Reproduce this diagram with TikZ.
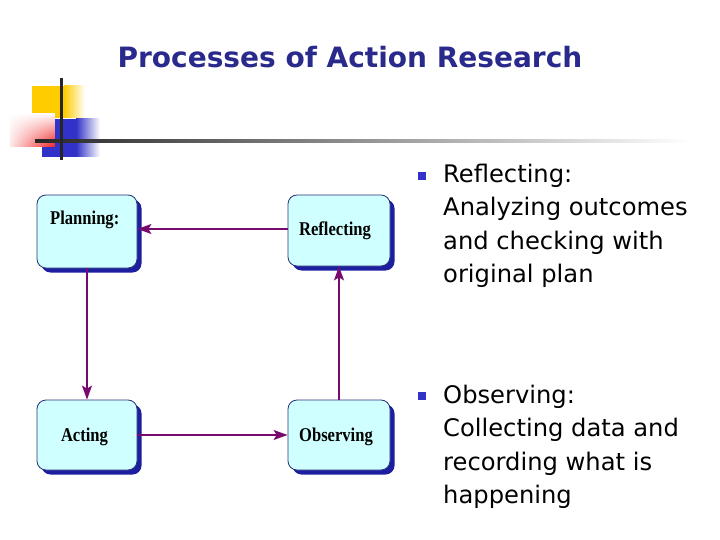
\documentclass[tikz,border=0pt]{standalone}
\usepackage{fontspec}
\setmainfont{DejaVu Sans}
\newfontfamily\boxfont{Liberation Serif}
\usetikzlibrary{arrows.meta,shadows,fadings}
\definecolor{titleblue}{RGB}{42,42,140}
\definecolor{boxfill}{RGB}{208,255,255}
\definecolor{boxline}{RGB}{40,50,120}
\definecolor{shadowblue}{RGB}{30,30,160}
\definecolor{arrowpurple}{RGB}{120,10,110}
\definecolor{bulletblue}{RGB}{50,50,200}
\definecolor{decoyellow}{RGB}{255,204,0}
\definecolor{decoblue}{RGB}{50,50,200}
\definecolor{decored}{RGB}{240,30,30}
\newcommand{\boxtxt}[1]{\scalebox{0.85}[1]{\boxfont\bfseries\fontsize{19.5}{22}\selectfont #1}}
\tikzset{
  box/.style={rectangle, rounded corners=9pt, draw=boxline, line width=0.8pt, fill=boxfill,
    drop shadow={shadow xshift=4.5pt, shadow yshift=-4.5pt, fill=shadowblue, opacity=1},
    inner sep=0pt},
  boxlabel/.style={anchor=base, inner sep=0pt},
  flow/.style={draw=arrowpurple, line width=1.4pt, -{Stealth[length=14pt,width=10pt,inset=3pt]}},
  bullettext/.style={anchor=base west, align=left, inner sep=0pt, font=\fontsize{24.2}{33.6}\selectfont},
  bulletsq/.style={fill=bulletblue, minimum size=8pt, inner sep=0pt},
}
\begin{document}
\begin{tikzpicture}[x=1pt,y=-1pt]
\useasboundingbox (0,0) rectangle (720,540);
\fill[white] (0,0) rectangle (720,540);
% title
\node[font=\bfseries\fontsize{28}{32}\selectfont, text=titleblue] (title) at (350,57) {Processes of Action Research};
% decoration
\fill[decoyellow] (32,86) rectangle (64,118);
\shade[left color=decoyellow, right color=white] (64,86) rectangle (85,118);
\fill[decoblue] (42,119) rectangle (76,157);
\shade[left color=decoblue, right color=white] (76,119) rectangle (100,157);
\fill[white] (10,113) rectangle (55,147);
\shade[left color=decored!10, right color=decored, path fading=north] (10,113) rectangle (55,147);
\shade[left color=black!85, right color=white] (35,139.5) rectangle (690,142.5);
\fill[black!85] (60,78) rectangle (62.5,160);
% boxes
\node[box, minimum width=100pt, minimum height=73pt] (plan) at (87,231.5) {};
\node[anchor=base west, inner sep=0pt] (plantext) at (50,225) {\boxtxt{Planning:}};
\node[box, minimum width=102pt, minimum height=71pt] (refl) at (339,230.5) {};
\node[boxlabel] (refltext) at (335,235.5) {\boxtxt{Reflecting}};
\node[box, minimum width=100pt, minimum height=70pt] (act) at (87,435) {};
\node[boxlabel] (acttext) at (84.5,441) {\boxtxt{Acting}};
\node[box, minimum width=102pt, minimum height=70pt] (obs) at (339,435) {};
\node[boxlabel] (obstext) at (336,441) {\boxtxt{Observing}};
% arrows
\draw[flow] (refl.west |- 0,229) -- (plan.east |- 0,229);
\draw[flow] (plan.south) -- (act.north);
\draw[flow] (act.east) -- (obs.west);
\draw[flow] (obs.north) -- (refl.south);
% bullets
\node[bulletsq] (b1) at (422,176) {};
\node[bullettext] (t1) at (443,282.8) {Reflecting:\\Analyzing outcomes\\and checking with\\original plan};
\node[bulletsq] (b2) at (422,396) {};
\node[bullettext] (t2) at (443,503.8) {Observing:\\Collecting data and\\recording what is\\happening};
\end{tikzpicture}
\end{document}
